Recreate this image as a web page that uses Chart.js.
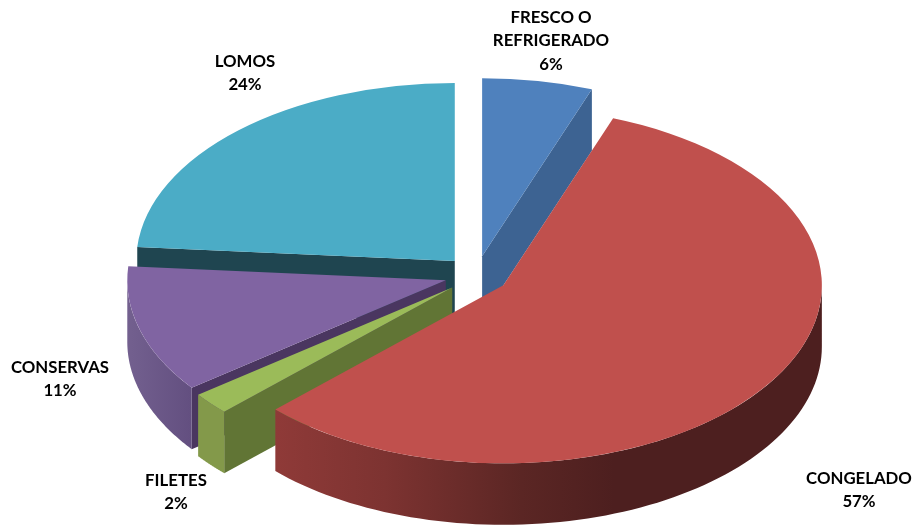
<!DOCTYPE html>
<html>
<head>
<meta charset="utf-8">
<style>
  html, body { margin: 0; padding: 0; background: #fff; }
  #wrap { width: 913px; height: 526px; }
</style>
<script src="https://cdn.jsdelivr.net/npm/chart.js@4"></script>
</head>
<body>
<div id="wrap"><canvas id="pie" width="913" height="526"></canvas></div>
<script>
// --- DATA ---
const categories = ['FRESCO O\nREFRIGERADO', 'CONGELADO', 'FILETES', 'CONSERVAS', 'LOMOS'];
const shares = [5.6, 57.1, 2, 11.55, 23.75];
const shareLabels = ['6%', '57%', '2%', '11%', '24%'];

// --- STYLE ---
const topColors = ['#4f81bd', '#c0504d', '#9bbb59', '#8064a2', '#4bacc6'];
const cutColors = ['#3d6392', '#4d1f1f', '#617535', '#4a3660', '#1f4550'];
// gradient of the curved outer wall, left to right
const wallStops = [
  [[0, '#3d6392'], [1, '#3d6392']],
  [[0, '#8f3a38'], [0.2, '#7d3331'], [0.45, '#5b2624'], [0.62, '#4d1f1f'], [1, '#4d1f1f']],
  [[0, '#83994a'], [1, '#83994a']],
  [[0, '#73608f'], [1, '#634f80']],
  [[0, '#1f4550'], [1, '#1f4550']]
];
// back to front
const paintOrder = [0, 4, 3, 2, 1];

// look of the tilted pie, in page pixels
const pieCenterX = 476.5;
const pieCenterY = 275;
const pieRadiusX = 318.5;
const pieRadiusY = 178;
const pieDepth = 61.5;
const pieExplodeX = 32;
const pieExplodeY = 19;

// text anchors (centre of the block, line height 23.5)
const labelSpots = [[551, 41], [859, 490], [176, 492], [60, 379], [245, 73]];
const labelLine = 23.5;

// --- 3D PIE ---
function sliceApex(arc, down) {
  const mid = (arc.startAngle + arc.endAngle) / 2;
  return {
    x: pieCenterX + pieExplodeX * Math.cos(mid),
    y: pieCenterY + pieExplodeY * Math.sin(mid) + down
  };
}

function slicePoint(arc, angle, down) {
  const apex = sliceApex(arc, down);
  return {
    x: apex.x + pieRadiusX * Math.cos(angle),
    y: apex.y + pieRadiusY * Math.sin(angle)
  };
}

function drawCut(ctx, arc, angle, color) {
  const a = sliceApex(arc, 0);
  const b = slicePoint(arc, angle, 0);
  const c = slicePoint(arc, angle, pieDepth);
  const d = sliceApex(arc, pieDepth);
  ctx.fillStyle = color;
  ctx.beginPath();
  ctx.moveTo(a.x, a.y);
  ctx.lineTo(b.x, b.y);
  ctx.lineTo(c.x, c.y);
  ctx.lineTo(d.x, d.y);
  ctx.closePath();
  ctx.fill();
}

function drawOuterWall(ctx, arc, stops) {
  // only the part of the rim that faces the viewer (angles 0..PI, wrapped)
  let from = arc.startAngle;
  let to = arc.endAngle;
  while (from < 0 && to <= 0) { from += Math.PI * 2; to += Math.PI * 2; }
  from = Math.max(from, 0);
  to = Math.min(to, Math.PI);
  if (to <= from) return;

  const steps = 80;
  let minX = Infinity;
  let maxX = -Infinity;
  ctx.beginPath();
  for (let i = 0; i <= steps; i++) {
    const p = slicePoint(arc, from + (to - from) * i / steps, 0);
    minX = Math.min(minX, p.x);
    maxX = Math.max(maxX, p.x);
    if (i === 0) ctx.moveTo(p.x, p.y); else ctx.lineTo(p.x, p.y);
  }
  for (let i = steps; i >= 0; i--) {
    const p = slicePoint(arc, from + (to - from) * i / steps, pieDepth);
    ctx.lineTo(p.x, p.y);
  }
  ctx.closePath();
  const grad = ctx.createLinearGradient(minX, 0, maxX, 0);
  stops.forEach(s => grad.addColorStop(s[0], s[1]));
  ctx.fillStyle = grad;
  ctx.fill();
}

const pie3d = {
  id: 'pie3d',
  // the library's arcs are drawn here, squashed and moved out, on top of their walls
  beforeDatasetsDraw(chart) {
    const ctx = chart.ctx;
    const arcs = chart.getDatasetMeta(0).data;

    paintOrder.forEach(i => {
      const arc = arcs[i];
      // a cut face shows when its outward side looks at the viewer
      if (Math.sin(arc.startAngle - Math.PI / 2) > 0) drawCut(ctx, arc, arc.startAngle, cutColors[i]);
      if (Math.sin(arc.endAngle + Math.PI / 2) > 0) drawCut(ctx, arc, arc.endAngle, cutColors[i]);
      drawOuterWall(ctx, arc, wallStops[i]);

      const apex = sliceApex(arc, 0);
      ctx.save();
      ctx.translate(apex.x, apex.y);
      ctx.scale(pieRadiusX / arc.outerRadius, pieRadiusY / arc.outerRadius);
      ctx.translate(-arc.x, -arc.y);
      arc.draw(ctx);
      ctx.restore();
    });

    // labels
    ctx.save();
    ctx.fillStyle = '#000';
    ctx.font = 'bold 16.8px Lato';
    ctx.textAlign = 'center';
    ctx.textBaseline = 'middle';
    categories.forEach((name, i) => {
      const lines = name.split('\n').concat(shareLabels[i]);
      const top = labelSpots[i][1] - (lines.length - 1) * labelLine / 2;
      lines.forEach((line, n) => ctx.fillText(line, labelSpots[i][0], top + n * labelLine));
    });
    ctx.restore();
    return false;
  }
};

new Chart(document.getElementById('pie').getContext('2d'), {
  type: 'pie',
  data: {
    labels: categories,
    datasets: [{
      data: shares,
      backgroundColor: topColors,
      borderWidth: 0,
      hoverOffset: 0
    }]
  },
  options: {
    responsive: false,
    animation: false,
    radius: 200,
    plugins: {
      legend: { display: false },
      tooltip: { enabled: false }
    }
  },
  plugins: [pie3d]
});
</script>
</body>
</html>
